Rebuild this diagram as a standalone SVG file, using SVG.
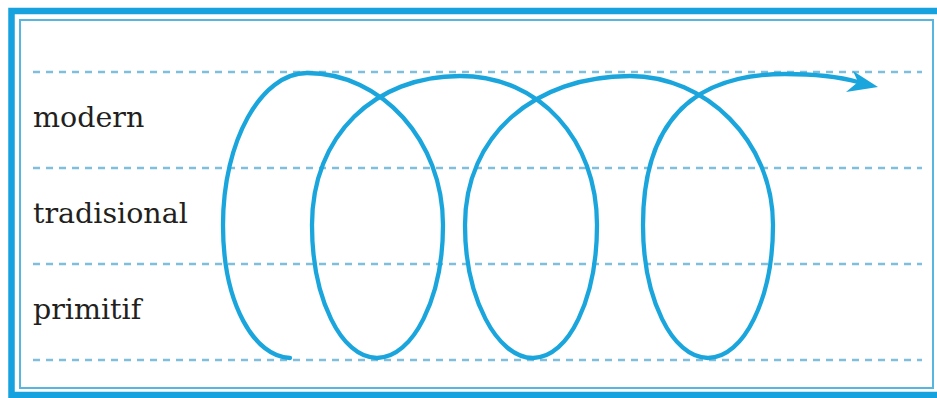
<svg xmlns="http://www.w3.org/2000/svg" width="937" height="398" viewBox="0 0 937 398">
  <style>
    .guide { stroke: #7fbedc; stroke-width: 2.6; stroke-dasharray: 7 6; fill: none; }
    .label { font-family: "DejaVu Serif", "Liberation Serif", serif; font-size: 28.5px; fill: #231f20; }
    .spiral { stroke: #1aa6dc; stroke-width: 4.3; fill: none; stroke-linecap: round; stroke-linejoin: round; }
    .head { fill: #1aa6dc; }
  </style>
  <rect width="937" height="398" fill="#ffffff"/>
  <g id="frame">
    <rect x="11.5" y="11" width="936" height="384" fill="none" stroke="#16a2de" stroke-width="6.5"/>
    <rect x="20" y="20" width="913" height="368" fill="none" stroke="#56b6e0" stroke-width="2"/>
  </g>
  <g id="guides">
    <line class="guide" x1="33" y1="72" x2="922" y2="72"/>
    <line class="guide" x1="33" y1="168" x2="922" y2="168"/>
    <line class="guide" x1="33" y1="264" x2="922" y2="264"/>
    <line class="guide" x1="33" y1="360" x2="922" y2="360"/>
  </g>
  <g id="label-modern"><text class="label" x="33" y="127">modern</text></g>
  <g id="label-tradisional"><text class="label" x="33" y="223">tradisional</text></g>
  <g id="label-primitif"><text class="label" x="33" y="319">primitif</text></g>
  <g id="connectors">
    <path class="spiral" d="M290,358 C255,357 223,305 223,225 C223,141 261,73 307,73 C382,73 443,141 443,225 C443,298 413,358 377,358 C341,358 312,298 312,225 C312,135 375,76 460,76 C540,76 597,140 597,225 C597,298 569,358 533,358 C497,358 465,298 465,225 C465,135 535,76 630,76 C705,76 773,140 773,225 C773,298 744,358 708,358 C672,358 643,298 643,225 C643,125 690,74 785,74 C818,74 840,77 858,82"/>
    <path class="head" d="M878,87 L853,71 L858,82 L846,92 Z"/>
  </g>
</svg>
